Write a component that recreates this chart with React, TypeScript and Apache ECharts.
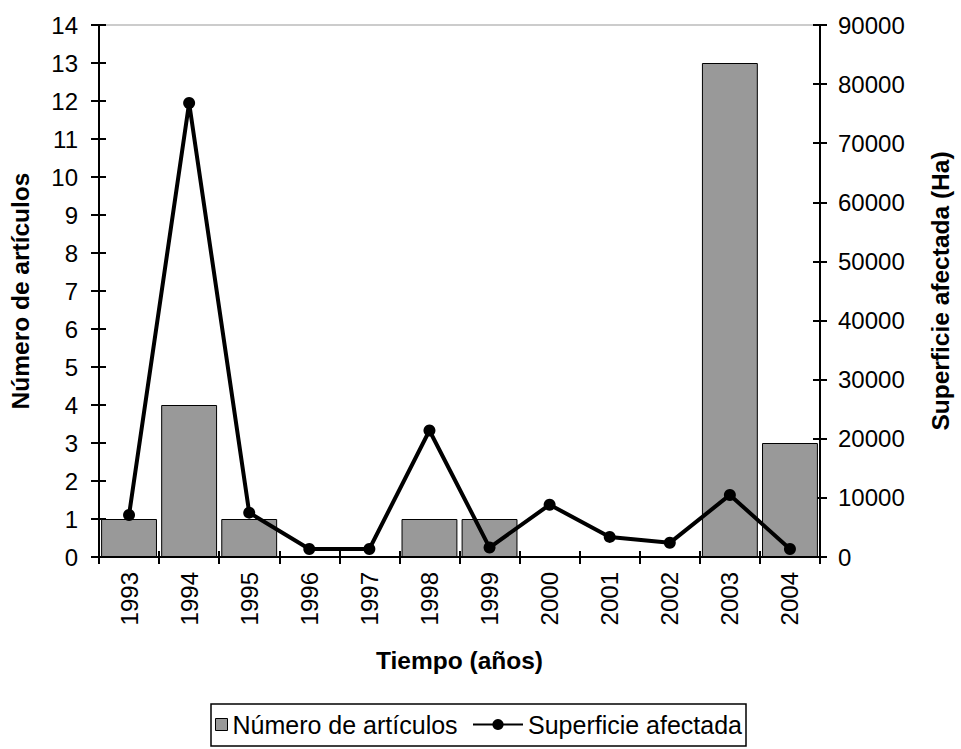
import React, { useEffect, useRef } from "react";
import * as echarts from "echarts";

const years = ["1993", "1994", "1995", "1996", "1997", "1998", "1999", "2000", "2001", "2002", "2003", "2004"];
const articulos = [1, 4, 1, 0, 0, 1, 1, 0, 0, 0, 13, 3];
const superficie = [7100, 76800, 7500, 1350, 1350, 21400, 1600, 8850, 3400, 2400, 10500, 1350];

const FONT = 'Arial, "Liberation Sans", sans-serif';

export default function App() {
  const ref = useRef<HTMLDivElement>(null);
  useEffect(() => {
    if (!ref.current) return;
    const chart = echarts.init(ref.current, undefined, { renderer: "svg" });
    const tickLabel = { color: "#000", fontFamily: FONT, fontSize: 24 };
    const nameStyle = { color: "#000", fontFamily: FONT, fontSize: 24.5, fontWeight: "bold" as const };
    const legendText = { color: "#000", fontFamily: FONT, fontSize: 25 };
    chart.setOption({
      animation: false,
      backgroundColor: "#fff",
      textStyle: { fontFamily: FONT },
      grid: {
        left: 98,
        right: 130,
        top: 25,
        bottom: 192,
        show: true,
        borderColor: "#999",
        borderWidth: 1,
        backgroundColor: "transparent",
      },
      graphic: [
        {
          type: "rect",
          shape: { x: 211, y: 704, width: 535, height: 42 },
          style: { fill: "none", stroke: "#000", lineWidth: 1.5 },
          z: 1,
        },
      ],
      legend: [
        {
          left: 215,
          top: 712,
          padding: 0,
          itemWidth: 12,
          itemHeight: 12,
          textStyle: legendText,
          itemStyle: { borderColor: "#000", borderWidth: 1 },
          data: [{ name: "Número de artículos", icon: "rect" }],
        },
        {
          left: 472,
          top: 712,
          padding: 0,
          itemWidth: 50,
          itemHeight: 14,
          textStyle: legendText,
          data: [{ name: "Superficie afectada" }],
        },
      ],
      xAxis: [
        {
          type: "category",
          data: years,
          position: "bottom",
          name: "Tiempo (años)",
          nameLocation: "middle",
          nameGap: 91,
          nameTextStyle: nameStyle,
          axisLine: { show: true, lineStyle: { color: "#000", width: 2 } },
          axisTick: { show: true, inside: false, length: 7, lineStyle: { color: "#000", width: 2 } },
          axisLabel: { ...tickLabel, rotate: 90, margin: 15 },
          splitLine: { show: false },
        },
        {
          type: "category",
          data: years,
          position: "bottom",
          axisLine: { show: false },
          axisTick: { show: true, inside: true, length: 6, lineStyle: { color: "#000", width: 2 } },
          axisLabel: { show: false },
          splitLine: { show: false },
        },
      ],
      yAxis: [
        {
          type: "value",
          position: "left",
          min: 0,
          max: 14,
          interval: 1,
          name: "Número de artículos",
          nameLocation: "middle",
          nameRotate: 90,
          nameGap: 66,
          nameTextStyle: nameStyle,
          axisLine: { show: true, lineStyle: { color: "#000", width: 2 } },
          axisTick: { show: true, inside: false, length: 8, lineStyle: { color: "#000", width: 2 } },
          axisLabel: { ...tickLabel, margin: 21 },
          splitLine: { show: false },
        },
        {
          type: "value",
          position: "right",
          min: 0,
          max: 90000,
          interval: 10000,
          name: "Superficie afectada (Ha)",
          nameLocation: "middle",
          nameRotate: 90,
          nameGap: 108,
          nameTextStyle: nameStyle,
          axisLine: { show: true, lineStyle: { color: "#000", width: 2 } },
          axisTick: { show: true, inside: false, length: 7, lineStyle: { color: "#000", width: 2 } },
          axisLabel: { ...tickLabel, margin: 18, formatter: (v: number) => String(v) },
          splitLine: { show: false },
        },
        {
          type: "value",
          position: "left",
          min: 0,
          max: 14,
          interval: 1,
          axisLine: { show: false },
          axisTick: { show: true, inside: true, length: 7, lineStyle: { color: "#000", width: 2 } },
          axisLabel: { show: false },
          splitLine: { show: false },
        },
        {
          type: "value",
          position: "right",
          min: 0,
          max: 90000,
          interval: 10000,
          axisLine: { show: false },
          axisTick: { show: true, inside: true, length: 7, lineStyle: { color: "#000", width: 2 } },
          axisLabel: { show: false },
          splitLine: { show: false },
        },
      ],
      series: [
        {
          name: "Número de artículos",
          type: "bar",
          xAxisIndex: 0,
          yAxisIndex: 0,
          data: articulos,
          barCategoryGap: "7%",
          itemStyle: { color: "#999999", borderColor: "#000", borderWidth: 1 },
          z: 2,
        },
        {
          name: "Superficie afectada",
          type: "line",
          xAxisIndex: 0,
          yAxisIndex: 1,
          data: superficie,
          symbol: "circle",
          symbolSize: 12,
          lineStyle: { color: "#000", width: 4 },
          itemStyle: { color: "#000" },
          z: 5,
        },
      ],
    });
    return () => chart.dispose();
  }, []);
  return <div ref={ref} style={{ position: "fixed", left: 0, top: 0, width: 961, height: 749 }} />;
}
